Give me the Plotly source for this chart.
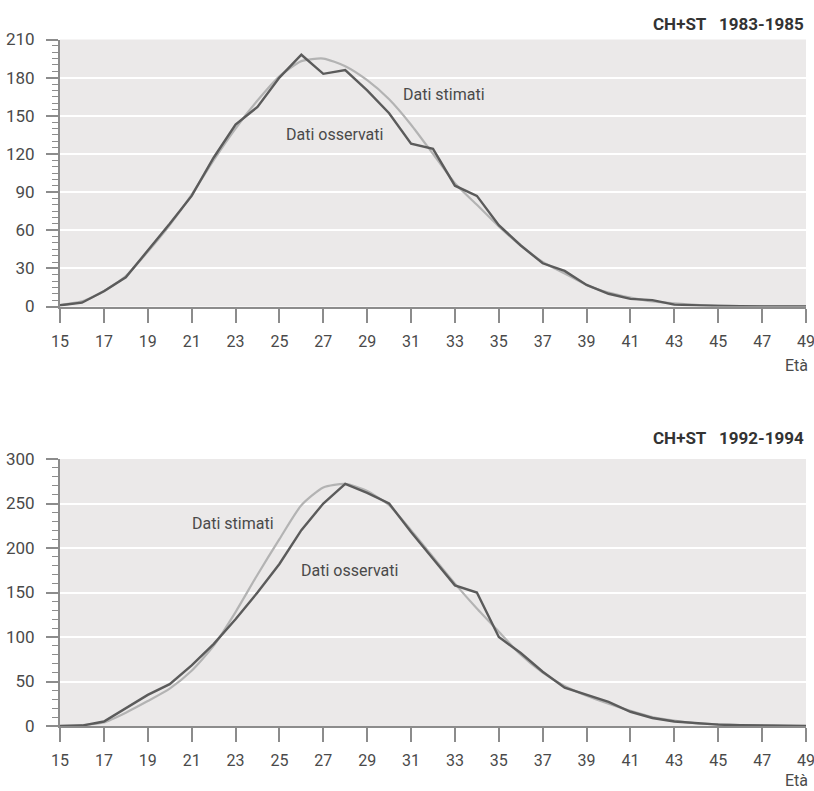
import plotly.graph_objects as go
from plotly.subplots import make_subplots

ages = list(range(15, 50))

# CH+ST 1983-1985
obs_83 = [1, 3, 12, 23, 44, 65, 87, 117, 143, 157, 180, 198, 183, 186, 170, 152, 128, 124,
          95, 87, 64, 48, 34, 28, 17, 10, 6, 5, 1.5, 0.8, 0.4, 0.2, 0.1, 0, 0]
est_83 = [1, 4, 12, 24, 43, 64, 88, 115, 140, 162, 181, 193, 195, 189, 178, 163, 143, 120,
          97, 80, 63, 48, 35, 26, 17, 11, 7, 4, 2.5, 1.3, 0.7, 0.3, 0.1, 0.05, 0]

# CH+ST 1992-1994
obs_92 = [0, 0.5, 5, 20, 35, 47, 68, 92, 120, 150, 182, 220, 250, 272, 262, 250, 218, 188,
          158, 150, 100, 82, 61, 43, 35, 27, 16, 9, 5, 3, 1.5, 1, 0.5, 0.2, 0]
est_92 = [0, 1, 4, 15, 28, 42, 62, 90, 128, 170, 210, 248, 268, 272, 264, 248, 220, 190,
          160, 132, 106, 80, 60, 45, 34, 25, 17, 10, 6, 3, 2, 1, 0.5, 0.2, 0]

x_ticks = list(range(15, 50, 2))
titles = ["CH+ST\u00a0\u00a0\u00a01983-1985", "CH+ST\u00a0\u00a0\u00a01992-1994"]

FONT = "Roboto, Liberation Sans Narrow, Arial Narrow, sans-serif"
DARK = "#5b5b5b"
LIGHT = "#b3b3b3"
AXIS = "#8c8c8c"
TXT = "#4a4a4a"

fig = make_subplots(rows=2, cols=1)

fig.add_trace(go.Scatter(x=ages, y=est_83, mode="lines", line=dict(color=LIGHT, width=2.2, shape="spline", smoothing=0.6),
                         showlegend=False), row=1, col=1)
fig.add_trace(go.Scatter(x=ages, y=obs_83, mode="lines", line=dict(color=DARK, width=2.4),
                         showlegend=False), row=1, col=1)
fig.add_trace(go.Scatter(x=ages, y=est_92, mode="lines", line=dict(color=LIGHT, width=2.2, shape="spline", smoothing=0.6),
                         showlegend=False), row=2, col=1)
fig.add_trace(go.Scatter(x=ages, y=obs_92, mode="lines", line=dict(color=DARK, width=2.4),
                         showlegend=False), row=2, col=1)

W, H = 814, 791
x0, x1 = 60 / W, 806 / W

common_x = dict(range=[15, 49], tickmode="array", tickvals=x_ticks, ticks="outside", ticklen=14,
                tickwidth=1.5, tickcolor=AXIS, showline=True, linecolor=AXIS, linewidth=2,
                showgrid=False, zeroline=False, tickfont=dict(family=FONT, size=16, color=TXT),
                ticklabelstandoff=5, ticklabeloverflow="allow", automargin=False, domain=[x0, x1])
fig.update_xaxes(**common_x, row=1, col=1)
fig.update_xaxes(**common_x, row=2, col=1)

common_y = dict(ticks="outside", ticklen=12, tickwidth=1.5, tickcolor=AXIS, showline=True,
                linecolor=AXIS, linewidth=2, showgrid=True, gridcolor="white", gridwidth=2,
                zeroline=False, tickfont=dict(family=FONT, size=17, color=TXT), ticklabelstandoff=8,
                automargin=False)
fig.update_yaxes(**common_y, range=[0, 210], dtick=30, tick0=0,
                 minor=dict(dtick=5, ticks="outside", ticklen=6, tickcolor=AXIS, tickwidth=1.2, showgrid=False),
                 domain=[1 - 306.5 / H, 1 - 39.5 / H], row=1, col=1)
fig.update_yaxes(**common_y, range=[0, 300], dtick=50, tick0=0,
                 minor=dict(dtick=10, ticks="outside", ticklen=6, tickcolor=AXIS, tickwidth=1.2, showgrid=False),
                 domain=[1 - 726 / H, 1 - 459 / H], row=2, col=1)

ann = []
ann.append(dict(text=titles[0], x=806 / W, y=1 - 24 / H, xref="paper", yref="paper", xanchor="right",
                yanchor="middle", showarrow=False, font=dict(family=FONT, size=17, color="#333", weight="bold")))
ann.append(dict(text=titles[1], x=806 / W, y=1 - 438 / H, xref="paper", yref="paper", xanchor="right",
                yanchor="middle", showarrow=False, font=dict(family=FONT, size=17, color="#333", weight="bold")))
ann.append(dict(text="Età", x=810 / W, y=1 - 365 / H, xref="paper", yref="paper", xanchor="right",
                yanchor="middle", showarrow=False, font=dict(family=FONT, size=16, color=TXT)))
ann.append(dict(text="Età", x=810 / W, y=1 - 780 / H, xref="paper", yref="paper", xanchor="right",
                yanchor="middle", showarrow=False, font=dict(family=FONT, size=16, color=TXT)))
# in-plot labels
ann.append(dict(text="Dati stimati", x=32.5, y=167, xref="x", yref="y", showarrow=False,
                font=dict(family=FONT, size=16, color=TXT)))
ann.append(dict(text="Dati osservati", x=27.5, y=135, xref="x", yref="y", showarrow=False,
                font=dict(family=FONT, size=16, color=TXT)))
ann.append(dict(text="Dati stimati", x=22.9, y=228, xref="x2", yref="y2", showarrow=False,
                font=dict(family=FONT, size=16, color=TXT)))
ann.append(dict(text="Dati osservati", x=28.2, y=175, xref="x2", yref="y2", showarrow=False,
                font=dict(family=FONT, size=16, color=TXT)))

fig.update_layout(width=W, height=H, margin=dict(l=0, r=0, t=0, b=0), paper_bgcolor="white",
                  plot_bgcolor="#ebe9e9", annotations=ann, showlegend=False)

fig.write_html("out.html")
